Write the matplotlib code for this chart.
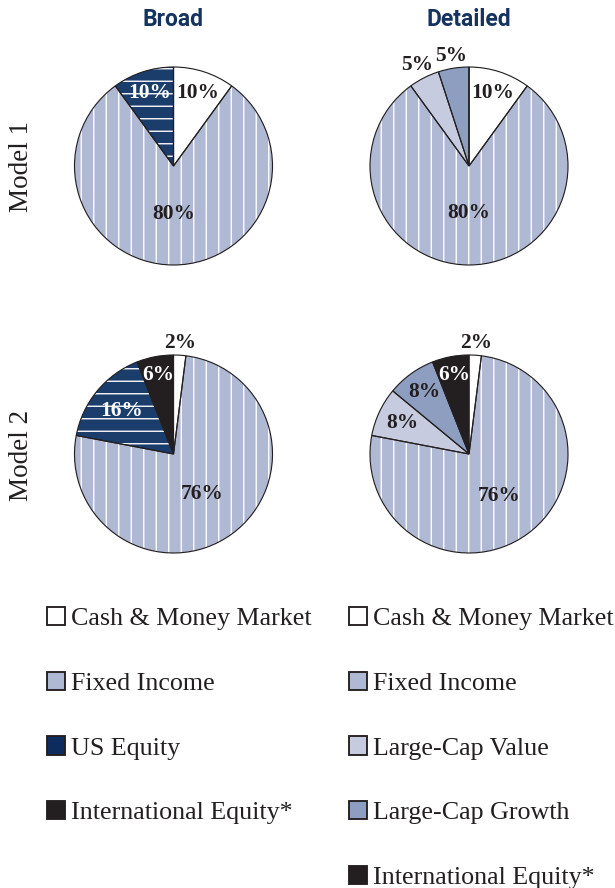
import matplotlib.pyplot as plt
import numpy as np
from matplotlib.patches import Patch

plt.rcParams['hatch.linewidth'] = 1.3

# data
col_titles = ["Broad", "Detailed"]
row_titles = ["Model 1", "Model 2"]

broad_labels = ["Cash & Money Market", "Fixed Income", "US Equity", "International Equity*"]
detailed_labels = ["Cash & Money Market", "Fixed Income", "Large-Cap Value", "Large-Cap Growth",
                   "International Equity*"]

m1_broad = [10, 80, 10, 0]
m1_detailed = [10, 80, 5, 5, 0]
m2_broad = [2, 76, 16, 6]
m2_detailed = [2, 76, 8, 8, 6]

# styles
c_cash = "white"
c_fixed = "#b0b9d4"
c_us = "#1a3d6c"
c_lcv = "#c6cbdf"
c_lcg = "#8d9ec0"
c_intl = "#231f20"
dark = "#231f20"
navy = "#15335f"

broad_colors = [c_cash, c_fixed, c_us, c_intl]
detailed_colors = [c_cash, c_fixed, c_lcv, c_lcg, c_intl]
broad_hatch = [None, "|", "-", None]
detailed_hatch = [None, "|", None, None, None]
broad_txt = [dark, dark, "white", "white"]
detailed_txt = [dark, dark, dark, dark, "white"]

# label radius per slice (fraction of radius)
r_m1_broad = [0.78, 0.48, 0.78, 0.8]
r_m1_detailed = [0.78, 0.47, 1.15, 1.13, 0.8]
r_m2_broad = [1.12, 0.50, 0.68, 0.81]
r_m2_detailed = [1.12, 0.52, 0.74, 0.77, 0.81]

W, H = 615, 888
DPI = 75
fig = plt.figure(figsize=(W / DPI, H / DPI), dpi=DPI)

R = 99
centers_x = [173.5, 469]
centers_y = [166, 454]

pies = [
    (0, 0, m1_broad, broad_colors, broad_hatch, broad_txt, r_m1_broad),
    (0, 1, m1_detailed, detailed_colors, detailed_hatch, detailed_txt, r_m1_detailed),
    (1, 0, m2_broad, broad_colors, broad_hatch, broad_txt, r_m2_broad),
    (1, 1, m2_detailed, detailed_colors, detailed_hatch, detailed_txt, r_m2_detailed),
]

for row, col, vals, cols, hatches, txtc, radii in pies:
    cx, cy = centers_x[col], centers_y[row]
    ax = fig.add_axes([(cx - R) / W, (H - cy - R) / H, 2 * R / W, 2 * R / H])
    wedges, _ = ax.pie(vals, colors=cols, startangle=90, counterclock=False,
                       wedgeprops=dict(edgecolor="white", linewidth=0))
    for w, h in zip(wedges, hatches):
        if h:
            w.set_hatch(h)
    ax.pie(vals, colors=["none"] * len(vals), startangle=90, counterclock=False,
           wedgeprops=dict(edgecolor=dark, linewidth=1.1))
    for w, v, tc, r in zip(wedges, vals, txtc, radii):
        if v == 0:
            continue
        a = np.deg2rad((w.theta1 + w.theta2) / 2)
        ax.text(r * np.cos(a), r * np.sin(a), f"{v}%", ha="center", va="center",
                color=tc, fontsize=20.5, fontweight="bold", family="Liberation Serif")
    ax.set_xlim(-1, 1)
    ax.set_ylim(-1, 1)
    ax.set_aspect("equal")
    ax.axis("off")

for col, t in enumerate(col_titles):
    fig.text(centers_x[col] / W, 1 - 19 / H, t, ha="center", va="center",
             color=navy, fontsize=22, fontweight="bold", family="Roboto")

for row, t in enumerate(row_titles):
    fig.text(22 / W, 1 - (centers_y[row] + 1) / H, t, ha="center", va="center",
             rotation=90, color=dark, fontsize=26, family="Liberation Serif")

# legends
def make_legend(labels, colors, x):
    handles = [Patch(facecolor=c, edgecolor=dark, linewidth=1.8) for c in colors]
    fig.legend(handles=handles, labels=labels, loc="upper left",
               bbox_to_anchor=(x / W, 1 - 607 / H), frameon=False,
               prop=dict(family="Liberation Serif", size=25),
               handlelength=0.7, handleheight=0.7, handletextpad=0.22,
               labelspacing=1.59, borderpad=0, borderaxespad=0,
               labelcolor=dark)

legend_broad_colors = [c_cash, c_fixed, "#0d2b5c", c_intl]
make_legend(broad_labels, legend_broad_colors, 47)
make_legend(detailed_labels, detailed_colors, 349)

fig.savefig("out.png", dpi=DPI)
